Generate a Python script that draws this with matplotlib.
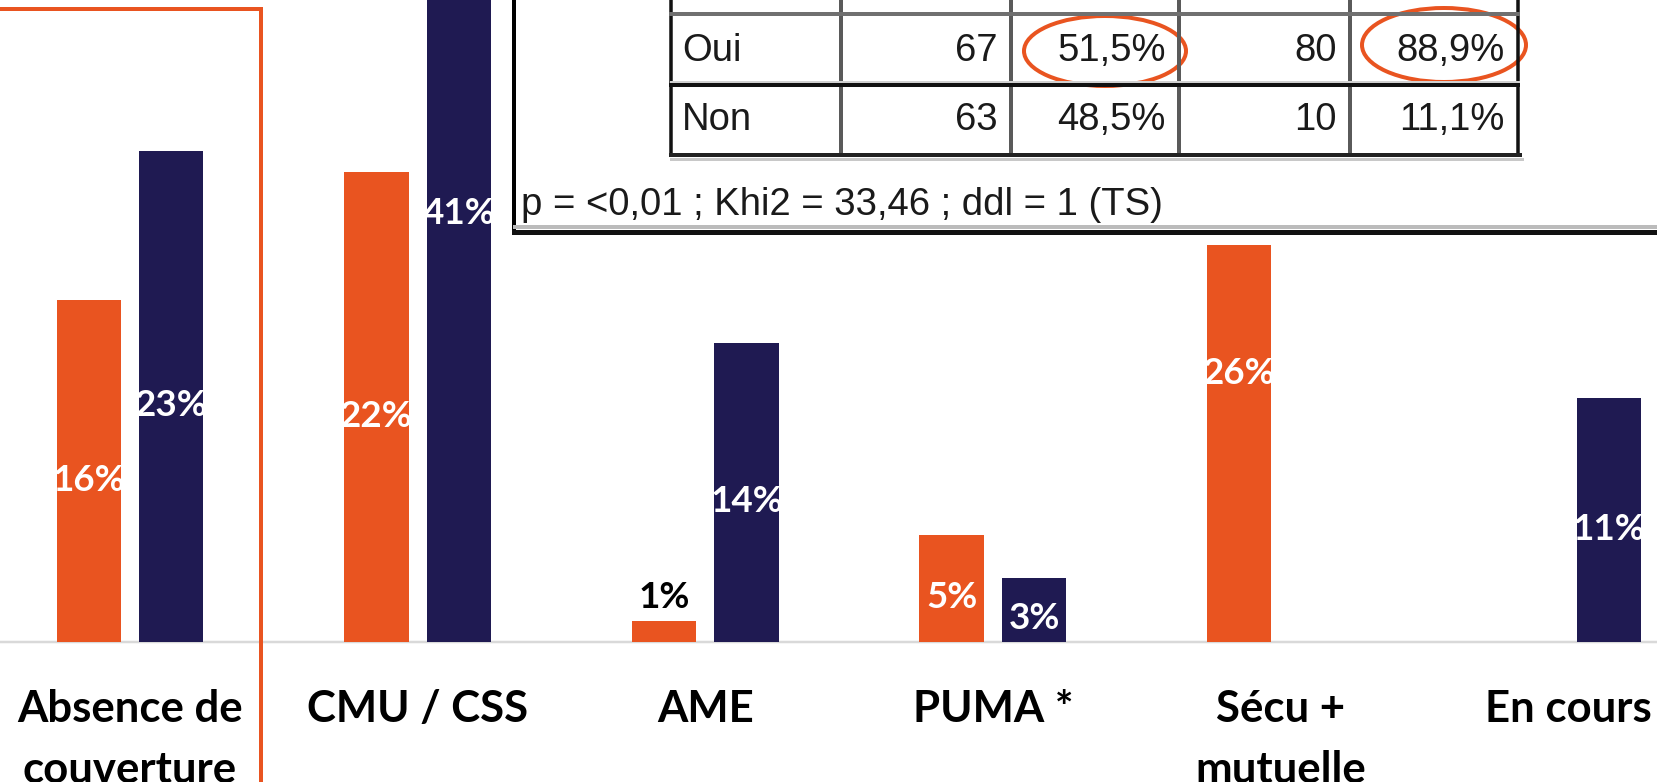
import matplotlib
matplotlib.use("Agg")
import matplotlib.pyplot as plt
from matplotlib.patches import Rectangle, Ellipse
import numpy as np

# chart data
categories = ["Absence de\ncouverture", "CMU / CSS", "AME", "PUMA *", "Sécu +\nmutuelle", "En cours"]
orange_vals = [16, 22, 1, 5, 26, 0]
navy_vals = [23, 41, 14, 3, 0, 11.4]

# inset table (pasted picture on top of the chart)
table_rows = [["Oui", "67", "51,5%", "80", "88,9%"],
              ["Non", "63", "48,5%", "10", "11,1%"]]
stats_text = "p = <0,01 ; Khi2 = 33,46 ; ddl = 1 (TS)"
circled = [(0, 2), (0, 4)]

ORANGE = "#E95420"
NAVY = "#1F1A52"
W, H = 1658, 782
PX = 0.72  # points per pixel at dpi 100

fig = plt.figure(figsize=(W / 100, H / 100), dpi=100)
base_px = 642
ax = fig.add_axes([0, (H - base_px) / H, 1, base_px / H])
ax.set_xlim(-0.452, 5.313)
ax.set_ylim(0, 30.05)

x = np.arange(len(categories))
off = 0.1434
bw = 0.224
ax.bar(x - off, orange_vals, bw, color=ORANGE, zorder=2)
ax.bar(x + off, navy_vals, bw, color=NAVY, zorder=2)

for xs, vals in [(x - off, orange_vals), (x + off, navy_vals)]:
    for xi, v in zip(xs, vals):
        if v == 0:
            continue
        lab = f"{round(v)}%"
        if v < 2:
            ax.annotate(lab, (xi, v), xytext=(0, 17), textcoords="offset points",
                        ha="center", va="center", fontsize=26.5, fontweight="bold",
                        family="Lato", color="black", annotation_clip=False)
        else:
            ax.annotate(lab, (xi, v / 2), xytext=(0, -6.5), textcoords="offset points",
                        ha="center", va="center", fontsize=26.5, fontweight="bold",
                        family="Lato", color="white", annotation_clip=False, zorder=3)

ax.axhline(0, color="#D9D9D9", lw=2.5 * PX, clip_on=False, zorder=1)
for s in ax.spines.values():
    s.set_visible(False)
ax.set_yticks([])
ax.set_xticks(x)
ax.set_xticklabels(categories, fontsize=31.5, fontweight="bold", family="Lato",
                   linespacing=1.62)
ax.tick_params(axis="x", length=0, pad=34)

# overlay in pixel coordinates
ov = fig.add_axes([0, 0, 1, 1], zorder=10)
ov.set_xlim(0, W)
ov.set_ylim(H, 0)
ov.axis("off")
ov.patch.set_alpha(0)

# orange frame around first category
ov.add_patch(Rectangle((-30, 9), 291, 900, fill=False, edgecolor=ORANGE, lw=4 * PX))

# white box of the pasted table
ov.add_patch(Rectangle((508, -20), W, 265, facecolor="white", edgecolor="none"))
ov.plot([514, 514], [-5, 232], color="black", lw=4 * PX, solid_capstyle="butt")
ov.plot([515, W + 5], [227, 227], color="#BBBBBB", lw=4 * PX)
ov.plot([514, W + 5], [232, 232], color="#111111", lw=5 * PX)

col_edges = [671, 841, 1011, 1179, 1350, 1518]
top_y, row_sep, bot_y = 14, 85, 155
for i, cx in enumerate(col_edges):
    outer = i in (0, len(col_edges) - 1)
    ov.plot([cx, cx], [-5, bot_y + 2], color="#111111" if outer else "#5A5A5A",
            lw=(3.5 if outer else 4) * PX, solid_capstyle="butt")
ov.plot([col_edges[0], col_edges[-1]], [top_y, top_y], color="#707070", lw=4 * PX)
ov.plot([col_edges[0], col_edges[-1]], [row_sep - 3.5, row_sep - 3.5], color="#D0D0D0", lw=3 * PX)
ov.plot([col_edges[0], col_edges[-1]], [row_sep, row_sep], color="#111111", lw=4 * PX)
ov.plot([col_edges[0], col_edges[-1] + 2], [bot_y, bot_y], color="#222222", lw=4 * PX)
ov.plot([col_edges[0], col_edges[-1] + 4], [bot_y + 3.5, bot_y + 3.5], color="#C8C8C8", lw=3 * PX)

row_centers = [51, 120]
for r, row in enumerate(table_rows):
    for c, cell in enumerate(row):
        if c == 0:
            ov.text(col_edges[0] + 11, row_centers[r], cell, ha="left", va="center",
                    fontsize=27.5, family="Liberation Sans", color="#1A1A1A")
        else:
            ov.text(col_edges[c + 1] - 13, row_centers[r], cell, ha="right", va="center",
                    fontsize=27.5, family="Liberation Sans", color="#1A1A1A")

ell_geom = {(0, 2): (1105, 51, 162, 70), (0, 4): (1444, 45, 164, 74)}
for key in circled:
    cx, cy, ew, eh = ell_geom[key]
    ov.add_patch(Ellipse((cx, cy), ew, eh, fill=False, edgecolor=ORANGE, lw=4 * PX))

ov.text(521, 205, stats_text, ha="left", va="center", fontsize=27.5,
        family="Liberation Sans", color="#1A1A1A")

fig.savefig("out.png", dpi=100)
